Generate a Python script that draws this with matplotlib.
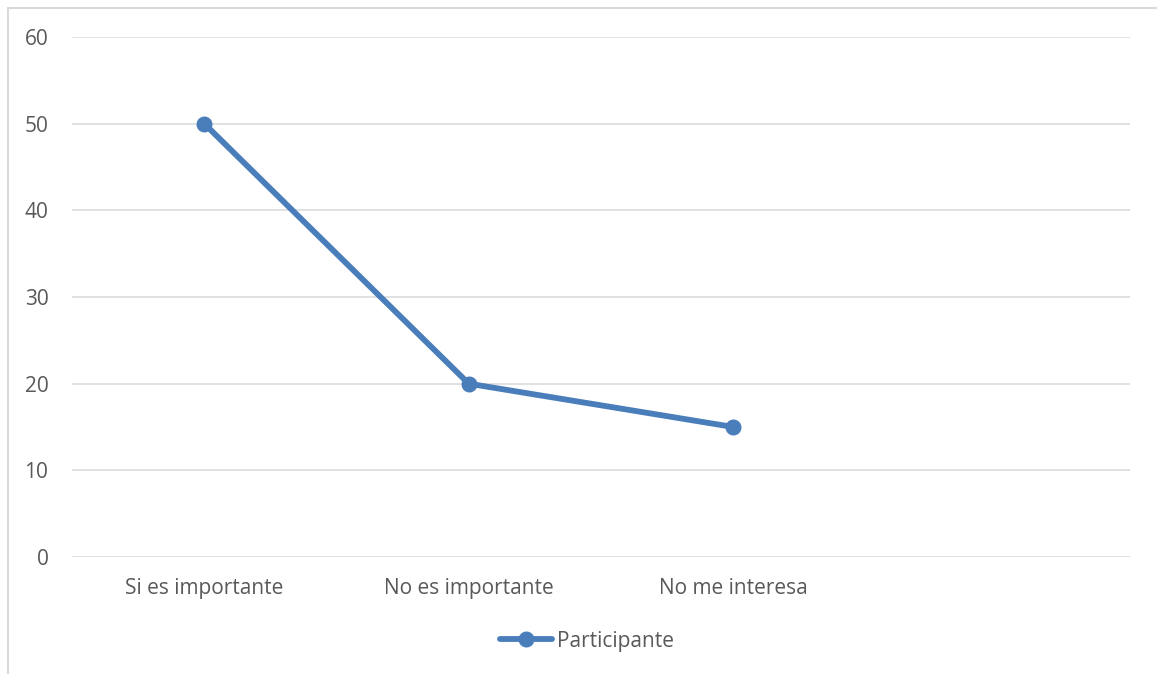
import matplotlib.pyplot as plt
from matplotlib.patches import Rectangle

categories = ["Si es importante", "No es importante", "No me interesa", ""]
values = [50, 20, 15]
yticks = [0, 10, 20, 30, 40, 50, 60]
series_name = "Participante"

plt.rcParams['font.family'] = ['Open Sans', 'DejaVu Sans']
text_color = '#595959'
line_color = '#4A7EBB'

fig = plt.figure(figsize=(11.57, 6.74), dpi=100)
W, H = 1157, 674
ax = fig.add_axes([72 / W, 1 - 557 / H, (1130 - 72) / W, (557 - 37) / H])

# outer chart border (cropped at right and bottom)
fig.patches.append(Rectangle((8 / W, -0.1), 1.2, 1 - 8 / H + 0.1, transform=fig.transFigure,
                             fill=False, edgecolor='#D9D9D9', linewidth=1.5))

x = list(range(len(categories)))
ax.plot(x[:len(values)], values, color=line_color, linewidth=4.2, marker='o',
        markersize=10.5, solid_capstyle='round', label=series_name, zorder=3)

ax.set_xlim(-0.5, len(categories) - 0.5)
ax.set_ylim(0, 60)
ax.set_yticks(yticks)
ax.set_xticks(x)
ax.set_xticklabels(categories)
ax.grid(axis='y', color='#D9D9D9', linewidth=1.1)
ax.set_axisbelow(True)
for s in ax.spines.values():
    s.set_visible(False)
ax.tick_params(axis='both', length=0, colors=text_color, labelsize=15)
ax.tick_params(axis='y', pad=17)
ax.tick_params(axis='x', pad=15)

ax.legend(loc='center', bbox_to_anchor=(587 / W, 1 - 641 / H), bbox_transform=fig.transFigure,
          frameon=False, fontsize=15, labelcolor=text_color, handlelength=2.5,
          handletextpad=0.2)

fig.savefig("out.png", dpi=100)
